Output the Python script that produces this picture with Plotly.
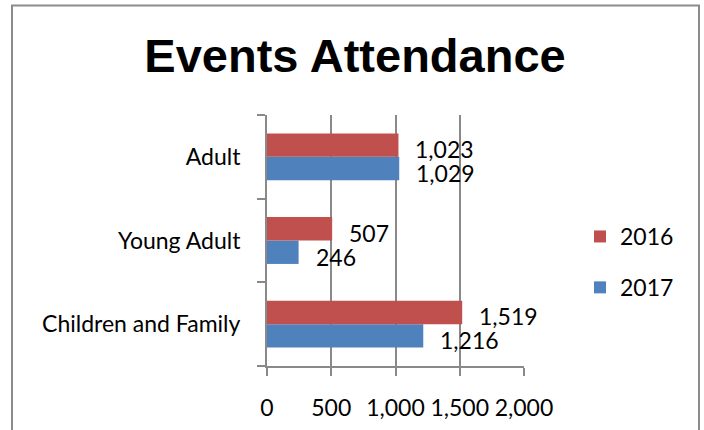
import plotly.graph_objects as go

# ---- data ----
categories = ["Children and Family", "Young Adult", "Adult"]
values_2016 = [1519, 507, 1023]
values_2017 = [1216, 246, 1029]
series_names = ["2016", "2017"]
x_ticks = [0, 500, 1000, 1500, 2000]
title_text = "Events Attendance"

RED = "#C0504D"
BLUE = "#4F81BD"
GRAY = "#898989"
FONT = "Lato"
FS = 23

fig = go.Figure()
fig.add_trace(go.Bar(
    y=categories, x=values_2017, name=series_names[1], orientation="h",
    marker=dict(color=BLUE, line=dict(width=0)), legendgroup="b", legendrank=2,
))
fig.add_trace(go.Bar(
    y=categories, x=values_2016, name=series_names[0], orientation="h",
    marker=dict(color=RED, line=dict(width=0)), legendgroup="a", legendrank=1,
))

annotations = []
for cat, v in zip(categories, values_2016):
    annotations.append(dict(x=v, y=cat, xref="x", yref="y", text=f"{v:,}",
                            showarrow=False, xanchor="left", yanchor="middle",
                            xshift=15, yshift=8, font=dict(family=FONT, size=FS, color="black")))
for cat, v in zip(categories, values_2017):
    annotations.append(dict(x=v, y=cat, xref="x", yref="y", text=f"{v:,}",
                            showarrow=False, xanchor="left", yanchor="middle",
                            xshift=15, yshift=-16, font=dict(family=FONT, size=FS, color="black")))

W, H = 704, 430
L, T = 267, 115
pw, ph = 257, 251
R = W - L - pw
B = H - T - ph

def px2paper_x(px):
    return (px - L) / pw

def px2paper_y(py):
    return (T + ph - py) / ph

fig.add_shape(type="rect", xref="paper", yref="paper",
              x0=px2paper_x(12), x1=px2paper_x(699),
              y0=px2paper_y(470), y1=px2paper_y(5.5),
              line=dict(color="#8c8c8c", width=2), fillcolor="rgba(0,0,0,0)")

fig.update_layout(
    width=W, height=H, autosize=False,
    margin=dict(l=L, r=R, t=T, b=B, pad=0, autoexpand=False),
    paper_bgcolor="white", plot_bgcolor="white",
    barmode="group", bargap=0.44, bargroupgap=0,
    font=dict(family=FONT, size=FS, color="black"),
    title=dict(text=title_text, x=355 / W, xanchor="center", xref="container",
               y=1 - 56 / H, yanchor="middle", yref="container",
               font=dict(family="Liberation Sans", size=47, color="black", weight="bold")),
    showlegend=True,
    legend=dict(x=px2paper_x(580), xanchor="left", y=px2paper_y(262), yanchor="middle",
                traceorder="grouped", tracegroupgap=18,
                font=dict(family=FONT, size=FS, color="black"),
                bgcolor="rgba(0,0,0,0)"),
    annotations=annotations,
)

fig.update_xaxes(
    range=[0, 2000], tickvals=x_ticks, tickformat=",",
    showgrid=True, gridcolor=GRAY, gridwidth=2,
    showline=True, linecolor=GRAY, linewidth=2,
    ticks="outside", ticklen=8, tickwidth=2, tickcolor=GRAY,
    zeroline=False, ticklabelstandoff=12, automargin=False,
    tickfont=dict(family=FONT, size=FS, color="black"),
)
fig.update_yaxes(
    categoryorder="array", categoryarray=categories,
    tickson="boundaries", ticks="outside", ticklen=8, tickwidth=2, tickcolor=GRAY,
    showline=True, linecolor=GRAY, linewidth=2, showgrid=False,
    ticklabelstandoff=20, automargin=False,
    tickfont=dict(family=FONT, size=FS, color="black"),
)

fig.write_html("out.html", config={"displayModeBar": False},
               post_script="document.body.style.margin='0px';")
